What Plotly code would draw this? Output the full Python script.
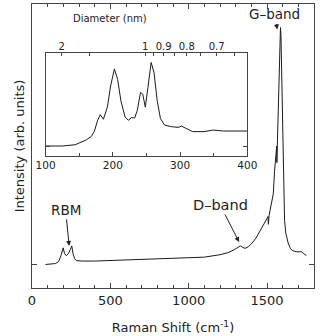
import plotly.graph_objects as go

# Main Raman spectrum (cm^-1, arb. intensity)
main_shift = [86, 120, 150, 170, 185, 199, 208, 219, 232, 244, 254, 262, 272, 283, 320, 400, 500, 600,
              700, 800, 900, 1000, 1100, 1200, 1250, 1290, 1315, 1330, 1345, 1360, 1380, 1400, 1430,
              1460, 1484, 1500, 1506, 1509, 1513, 1530, 1540, 1548, 1555, 1562, 1563, 1568, 1572, 1578,
              1583, 1586, 1589, 1592, 1597, 1602, 1606, 1612, 1620, 1635, 1650, 1666, 1690, 1720, 1735, 1752]
main_int = [0, 0.5, 1, 3, 9, 17, 11, 9, 11, 15, 19, 11, 6, 4, 3.5, 3.5, 4, 4.5,
            5, 5.5, 6, 6.5, 7.5, 10, 12, 15, 17.5, 19, 17.5, 16.5, 18, 21, 27,
            35, 42, 47, 49, 41, 50, 64, 72, 95, 105, 121, 104, 140, 169, 205,
            232, 242, 235, 210, 169, 110, 69, 45, 32, 22, 16, 14, 13, 13, 11, 9]

# Inset: RBM region
rbm_shift = [100, 125, 144, 153.6, 160.8, 168, 172.7, 177.5, 181.3, 186, 191.9, 196.7, 202.4, 207.2,
             212, 218.2, 223, 227.8, 232.5, 236.4, 241.2, 244.5, 248.3, 252.2, 257, 261.3, 266,
             270.8, 277, 287.6, 297.1, 302, 309, 318.7, 335.4, 349.8, 364, 383, 400]
rbm_int = [0, 0, 1.3, 3.7, 6.3, 9.7, 15.3, 26.3, 32, 27.3, 39.7, 61.3, 78.7, 68,
           46.3, 29.7, 26.3, 29, 28.7, 36.3, 54.7, 53, 39.7, 59.7, 85.3, 74.7, 46.3,
           28, 21.3, 19.7, 19, 20.3, 18, 14.7, 14.7, 16.3, 15.3, 15.3, 15.3]

# Diameter axis (omega = 248 / d)
diam_major = [2, 1, 0.9, 0.8, 0.7]
diam_labels = ["2", "1", "0.9", "0.8", "0.7"]
diam_minor = [1.5, 0.95, 0.85, 0.75, 0.65]
diam_major_pos = [248 / d for d in diam_major]
diam_minor_pos = [248 / d for d in diam_minor]

FONT = "DejaVu Sans"
AX = "#444444"
LINE = "#1a1a1a"

fig = go.Figure()
fig.add_trace(go.Scatter(x=main_shift, y=main_int, mode="lines",
                         line=dict(color=LINE, width=1), xaxis="x", yaxis="y", showlegend=False))
fig.add_trace(go.Scatter(x=rbm_shift, y=rbm_int, mode="lines",
                         line=dict(color=LINE, width=1), xaxis="x2", yaxis="y2", showlegend=False))
# invisible trace for top axis
fig.add_trace(go.Scatter(x=[100, 400], y=[None, None], mode="lines", xaxis="x3", yaxis="y2",
                         showlegend=False, hoverinfo="skip"))

fig.update_layout(
    width=327, height=336,
    margin=dict(l=32, r=3, t=3, b=43),
    paper_bgcolor="white", plot_bgcolor="white",
    font=dict(family=FONT, color="#222222"),
    xaxis=dict(range=[0, 1800], domain=[0, 1], tickvals=[0, 500, 1000, 1500], ticks="inside",
               ticklen=5, tickcolor=AX, showline=True, linecolor=AX, linewidth=1, mirror="ticks",
               showgrid=False, zeroline=False, tickfont=dict(size=13),
               minor=dict(dtick=100, ticks="inside", ticklen=3, tickcolor=AX, showgrid=False),
               title=dict(text="Raman Shift (cm<sup>-1</sup>)", font=dict(size=13), standoff=16)),
    yaxis=dict(range=[-24, 266], domain=[0, 1], tickvals=[0], showticklabels=False, ticks="inside",
               ticklen=5, tickcolor=AX, showline=True, linecolor=AX, linewidth=1, mirror="ticks",
               showgrid=False, zeroline=False,
               title=dict(text="Intensity (arb. units)", font=dict(size=13), standoff=3)),
    xaxis2=dict(range=[100, 400], domain=[0.048, 0.7637], anchor="y2", tickvals=[100, 200, 300, 400],
                ticks="inside", ticklen=4, tickcolor=AX, showline=True, linecolor=AX, linewidth=1,
                mirror=True, showgrid=False, zeroline=False, tickfont=dict(size=10.5),
                minor=dict(tickvals=[150, 250, 350], ticks="inside", ticklen=3, tickcolor=AX, showgrid=False)),
    yaxis2=dict(range=[-10, 95], domain=[0.4655, 0.8276], anchor="x2", tickvals=[0],
                showticklabels=False, ticks="inside", ticklen=4, tickcolor=AX, showline=True,
                linecolor=AX, linewidth=1, mirror="ticks", showgrid=False, zeroline=False),
    xaxis3=dict(range=[100, 400], overlaying="x2", anchor="y2", side="top", tickvals=diam_major_pos,
                ticktext=diam_labels, ticks="inside", ticklen=3, tickcolor=AX, showline=False,
                showgrid=False, zeroline=False, tickfont=dict(size=10),
                minor=dict(tickvals=diam_minor_pos, ticks="inside", ticklen=3, tickcolor=AX, showgrid=False)),
)

fig.add_annotation(text="Diameter (nm)", xref="paper", yref="paper", x=(113 - 32) / 292,
                   y=(293 - 18) / 290, showarrow=False, font=dict(size=10), xanchor="center",
                   yanchor="middle")

# Labels with arrows: (tip in data coords, label offset in px from tip)
arrow_common = dict(showarrow=True, arrowhead=2, arrowsize=1, arrowwidth=1, arrowcolor="#222222",
                    xref="x", yref="y", axref="pixel", ayref="pixel")
fig.add_annotation(text="G\u2013band", x=1566, y=240, ax=284 - 286.7, ay=14 - 29,
                   font=dict(size=13.5), **arrow_common)
fig.add_annotation(text="RBM", x=237, y=19, ax=67 - 70.5, ay=214 - 250,
                   font=dict(size=13.5), **arrow_common)
fig.add_annotation(text="D\u2013band", x=1322, y=23, ax=228 - 247, ay=209 - 246,
                   font=dict(size=14.5), **arrow_common)

fig.write_html("out.html")
